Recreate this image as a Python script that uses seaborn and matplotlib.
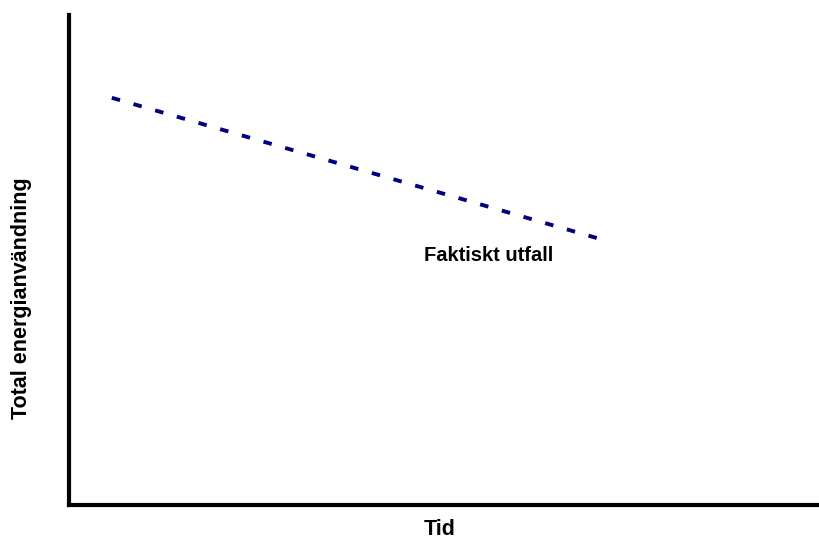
import matplotlib
matplotlib.use("Agg")
import matplotlib.pyplot as plt
import seaborn as sns
import pandas as pd

# Data: faktiskt utfall (utan skala)
tid = [0.057, 0.716]
energi = [0.831, 0.539]
etikett = "Faktiskt utfall"

sns.set_style("white")
plt.rcParams['font.family'] = ['Liberation Sans', 'DejaVu Sans']
plt.rcParams['text.color'] = 'black'
plt.rcParams['axes.labelcolor'] = 'black'

df = pd.DataFrame({"Tid": tid, "Energi": energi})

fig = plt.figure(figsize=(8.2, 5.38), dpi=100)
ax = fig.add_axes([69 / 820, 33 / 538, 751 / 820, 490 / 538])

sns.lineplot(data=df, x="Tid", y="Energi", ax=ax, color="#000080",
             linewidth=2.8)
ax.lines[0].set_dashes((2.2, 3.6))

ax.text(0.559, 0.51, etikett, ha="center", va="center",
        fontsize=14.5, fontweight="bold", color="black")

ax.set_xlim(0, 1)
ax.set_ylim(0, 1)
ax.set_xticks([])
ax.set_yticks([])
for s in ["top", "right"]:
    ax.spines[s].set_visible(False)
for s in ["left", "bottom"]:
    ax.spines[s].set_color("black")
    ax.spines[s].set_linewidth(3)

ax.set_xlabel("Tid", fontsize=15.5, fontweight="bold", va="center")
ax.set_ylabel("Total energianvändning", fontsize=15.5, fontweight="bold",
              va="center")
ax.xaxis.set_label_coords(0.493, -0.049)
ax.yaxis.set_label_coords(-0.0626, 0.4224)

fig.savefig("out.png", dpi=100)
